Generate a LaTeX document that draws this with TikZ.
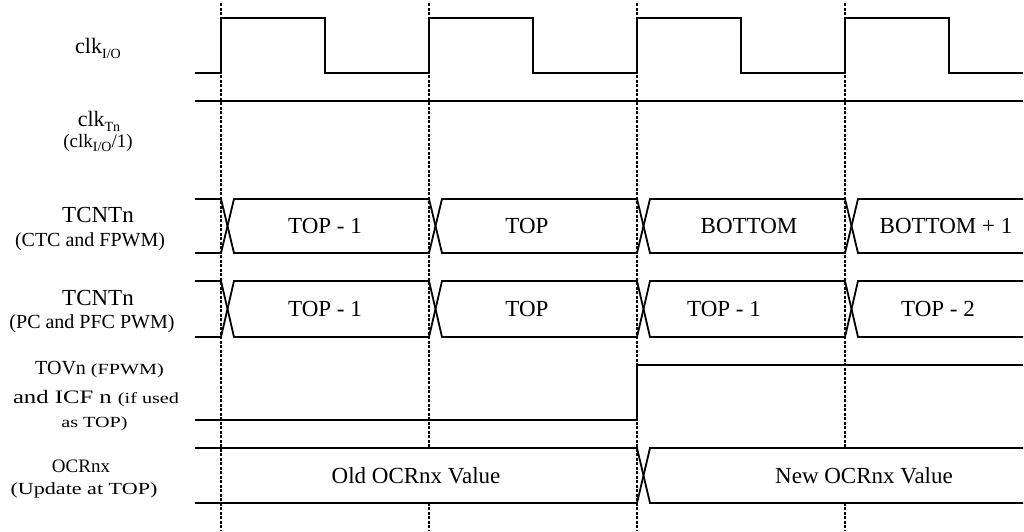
\documentclass[tikz,border=0pt]{standalone}
\usepackage{fontspec}
\setmainfont{Liberation Serif}
\newfontfamily\widefont[FakeStretch=1.3]{Liberation Serif}
\newcommand{\fs}[1]{\fontsize{#1}{#1}\selectfont}
\newcommand{\lo}[2]{\raisebox{-#2}{\fs{14}#1}}

\begin{document}
\begin{tikzpicture}[x=1pt,y=-1pt]
  \tikzstyle{sig}=[line width=1.8pt,line join=miter]
  \tikzstyle{edge}=[line width=1.3pt,dash pattern=on 3pt off 1.5pt]
  \tikzstyle{lbl}=[anchor=base,inner sep=0pt]
  \tikzstyle{val}=[inner sep=0pt,font=\fs{23}]
  \useasboundingbox (0,0) rectangle (1024,531);

  % clock edges
  \foreach \x in {221,429,637,845}
    \draw[edge] (\x,3) -- (\x,531);

  % clk I/O and clk Tn
  \draw[sig] (195,73) \foreach \x in {221,429,637,845}{ -- (\x,73) -- (\x,18) -- (\x+104,18) -- (\x+104,73)} -- (1023,73);
  \draw[sig,line width=1.5pt] (195,101) -- (1023,101);

  % TCNTn buses
  \foreach \t/\b in {199/253,281/337}{
    \draw[sig] (195,\t) -- (221,\t) -- (234,\b) -- (429,\b) -- (442,\t) -- (637,\t) -- (650,\b) -- (845,\b) -- (858,\t) -- (1023,\t);
    \draw[sig] (195,\b) -- (221,\b) -- (234,\t) -- (429,\t) -- (442,\b) -- (637,\b) -- (650,\t) -- (845,\t) -- (858,\b) -- (1023,\b);
  }

  % TOVn / ICFn
  \draw[sig] (195,420) -- (637,420) -- (637,365) -- (1023,365);

  % values
  \node[val] (ctc1) at (325,226) {TOP - 1};
  \node[val] (ctc2) at (527,226) {TOP};
  \node[val] (ctc3) at (749,226) {BOTTOM};
  \node[val] (ctc4) at (946,226) {BOTTOM + 1};
  \node[val] (pc1) at (325,309) {TOP - 1};
  \node[val] (pc2) at (527,309) {TOP};
  \node[val] (pc3) at (724,309) {TOP - 1};
  \node[val] (pc4) at (938,309) {TOP - 2};
  \node[val,fill=white,minimum height=53pt,inner xsep=14pt] (ocrold) at (416,475.5) {Old OCRnx Value};
  \node[val,fill=white,minimum height=53pt,inner xsep=14pt] (ocrnew) at (864,475.5) {New OCRnx Value};

  % OCRnx
  \draw[sig] (195,448) -- (637,448) -- (650,503) -- (1023,503);
  \draw[sig] (195,503) -- (637,503) -- (650,448) -- (1023,448);

  % signal names
  \node[lbl,font=\fs{22}] (clkio) at (98,53) {clk\lo{I/O}{5pt}};
  \node[lbl,font=\fs{22}] (clktn) at (99,126) {clk\lo{Tn}{5pt}};
  \node[lbl,font=\fs{19}] (clktnsub) at (98,147) {(clk\lo{I/O}{4pt}/1)};
  \node[lbl,font=\fs{23}] (tcnt1) at (98,222) {TCNTn};
  \node[lbl,font=\fs{20}] (tcnt1sub) at (90,246) {(CTC and FPWM)};
  \node[lbl,font=\fs{23}] (tcnt2) at (98,305) {TCNTn};
  \node[lbl,font=\fs{20}] (tcnt2sub) at (92,328) {(PC and PFC PWM)};
  \node[lbl,font=\fs{20}] (tov) at (99.5,374) {TOVn {\widefont\fs{15.5}(FPWM)}};
  \node[lbl,font=\widefont\fs{19}] (icf) at (96,403) {and ICF n {\fs{15.5}(if used}};
  \node[lbl,font=\widefont\fs{15.5}] (icfsub) at (94.5,427) {as TOP)};
  \node[lbl,font=\fs{19}] (ocr) at (81,472) {OCRnx};
  \node[lbl,font=\widefont\fs{17}] (ocrsub) at (84,494) {(Update at TOP)};
\end{tikzpicture}
\end{document}
